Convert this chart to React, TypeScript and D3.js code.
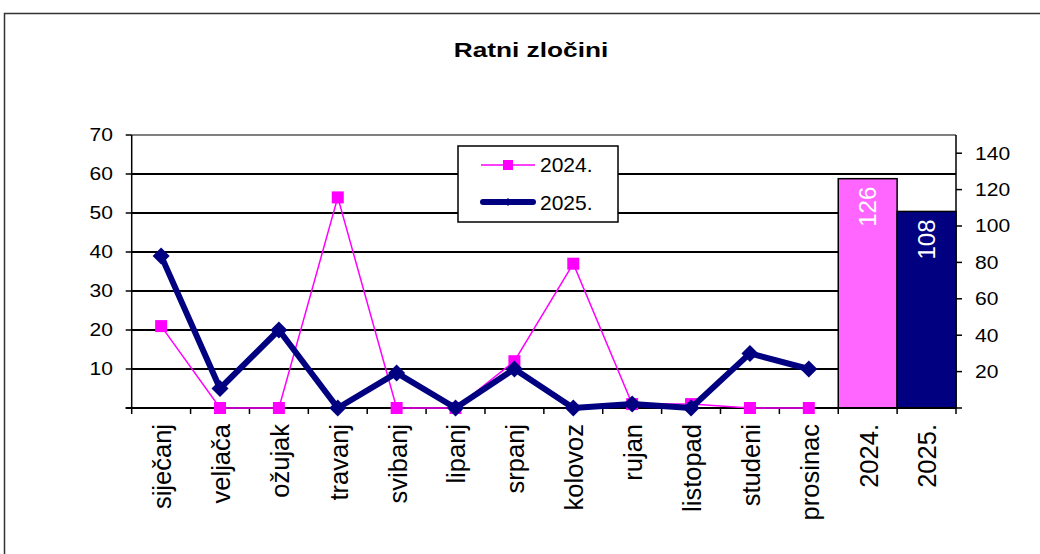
import React from "react";
import * as d3 from "d3";

const months = ["siječanj", "veljača", "ožujak", "travanj", "svibanj", "lipanj", "srpanj", "kolovoz", "rujan", "listopad", "studeni", "prosinac"];
const totalLabels = ["2024.", "2025."];
const values2024 = [21, 0, 0, 54, 0, 0, 12, 37, 1, 1, 0, 0];
const values2025 = [39, 5, 20, 0, 9, 0, 10, 0, 1, 0, 14, 10];
const totals = [126, 108];
const leftTicks = [10, 20, 30, 40, 50, 60, 70];
const rightTicks = [20, 40, 60, 80, 100, 120, 140];
const seriesNames = ["2024.", "2025."];

const FONT = "'Liberation Sans', Arial, sans-serif";
const PINK_LINE = "#FF00FF";
const PINK_BAR = "#FF66FF";
const NAVY = "#000080";

export default function App() {
  const W = 1040, H = 554;
  const left = 131.7, right = 956, top = 135, bottom = 408;
  const categories = [...months, ...totalLabels];
  const x = d3.scaleBand<string>().domain(categories).range([left, right]).padding(0);
  const yL = d3.scaleLinear().domain([0, 70]).range([bottom, top]);
  const yR = d3.scaleLinear().domain([0, 150]).range([bottom, top]);
  const cx = (c: string) => (x(c) as number) + x.bandwidth() / 2;

  const line = d3.line<number>()
    .x((_, i) => cx(months[i]))
    .y((d) => yL(d));

  const boundaries = categories.map((c) => x(c) as number).concat([right]);

  const diamond = (px: number, py: number, r: number) =>
    `M${px},${py - r}L${px + r},${py}L${px},${py + r}L${px - r},${py}Z`;

  const tickSX = 1.17;

  return (
    <svg width={W} height={H} style={{ position: "absolute", left: 0, top: 0, background: "#fff" }} fontFamily={FONT}>
      <rect x={0} y={0} width={W} height={H} fill="#fff" />
      <rect x={4.5} y={13.5} width={1100} height={600} fill="none" stroke="#333" strokeWidth={1.5} />

      <text transform={`translate(531,57) scale(1.25,1)`} textAnchor="middle" fontSize={21} fontWeight="bold" fill="#000">
        Ratni zločini
      </text>

      {/* gridlines */}
      {leftTicks.map((t) => (
        <line key={"g" + t} x1={left} x2={right} y1={yL(t)} y2={yL(t)}
          stroke={t === 70 ? "#808080" : "#000"} strokeWidth={2} />
      ))}

      {/* bars */}
      {totals.map((v, i) => (
        <rect key={"b" + i} x={x(totalLabels[i]) as number} y={yR(v)} width={x.bandwidth()} height={bottom - yR(v)}
          fill={i === 0 ? PINK_BAR : NAVY} stroke="#000" strokeWidth={1.5} />
      ))}
      {totals.map((v, i) => (
        <text key={"bl" + i} transform={`translate(${cx(totalLabels[i])},${yR(v) + 8}) rotate(-90)`}
          textAnchor="end" dy="0.35em" fontSize={24} fill="#fff">
          {v}
        </text>
      ))}

      {/* left axis */}
      <line x1={left} x2={left} y1={top} y2={bottom} stroke="#000" strokeWidth={1.5} />
      {[0, ...leftTicks].map((t) => (
        <line key={"lt" + t} x1={left - 6} x2={left} y1={yL(t)} y2={yL(t)} stroke="#000" strokeWidth={1.5} />
      ))}
      {leftTicks.map((t) => (
        <text key={"ll" + t} transform={`translate(113,${yL(t)}) scale(${tickSX},1)`} dy="0.36em"
          textAnchor="end" fontSize={18} fill="#000">
          {t}
        </text>
      ))}

      {/* right axis */}
      <line x1={right} x2={right} y1={top} y2={bottom} stroke="#000" strokeWidth={1.5} />
      {[0, ...rightTicks].map((t) => (
        <line key={"rt" + t} x1={right} x2={right + 6} y1={yR(t)} y2={yR(t)} stroke="#000" strokeWidth={1.5} />
      ))}
      {rightTicks.map((t) => (
        <text key={"rl" + t} transform={`translate(975,${yR(t)}) scale(${tickSX},1)`} dy="0.36em"
          textAnchor="start" fontSize={18} fill="#000">
          {t}
        </text>
      ))}

      {/* category axis */}
      <line x1={left - 6} x2={right} y1={bottom} y2={bottom} stroke="#000" strokeWidth={2} />
      {boundaries.map((b, i) => (
        <line key={"ct" + i} x1={b} x2={b} y1={bottom} y2={bottom + 6} stroke="#000" strokeWidth={1.5} />
      ))}
      {categories.map((c) => (
        <text key={"cl" + c} transform={`translate(${cx(c) + 1},424) rotate(-90)`} dy="0.35em"
          textAnchor="end" fontSize={25.5} fill="#000">
          {c}
        </text>
      ))}

      {/* 2024 series */}
      <path d={line(values2024) as string} fill="none" stroke={PINK_LINE} strokeWidth={1.5} />
      {values2024.map((v, i) => (
        <rect key={"m24" + i} x={cx(months[i]) - 6} y={yL(v) - 6} width={12} height={12} fill={PINK_LINE} />
      ))}

      {/* 2025 series */}
      <path d={line(values2025) as string} fill="none" stroke={NAVY} strokeWidth={6} strokeLinejoin="round" />
      {values2025.map((v, i) => (
        <path key={"m25" + i} d={diamond(cx(months[i]), yL(v), 8.5)} fill={NAVY} />
      ))}

      {/* legend */}
      <rect x={458} y={146} width={160} height={76} fill="#fff" stroke="#000" strokeWidth={1.5} />
      <line x1={481} x2={535} y1={165} y2={165} stroke={PINK_LINE} strokeWidth={1.5} />
      <rect x={503} y={160} width={10} height={10} fill={PINK_LINE} />
      <text transform={`translate(540,172) scale(1.05,1)`} fontSize={20} fill="#000">{seriesNames[0]}</text>
      <line x1={483} x2={533} y1={202} y2={202} stroke={NAVY} strokeWidth={6} strokeLinecap="round" />
      <path d={diamond(508, 202, 4)} fill={NAVY} />
      <text transform={`translate(540,209.5) scale(1.05,1)`} fontSize={20} fill="#000">{seriesNames[1]}</text>
    </svg>
  );
}
